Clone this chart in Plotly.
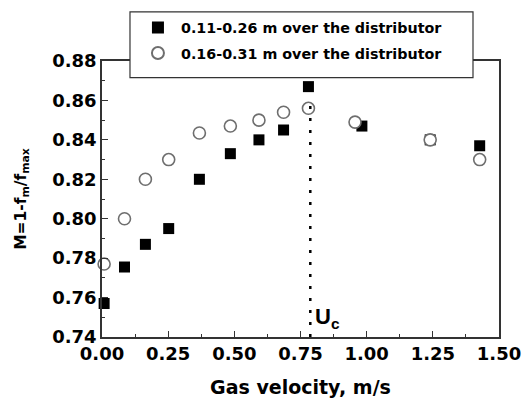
import plotly.graph_objects as go

# Data
velocity_a = [0.008, 0.085, 0.164, 0.252, 0.368, 0.485, 0.593, 0.686, 0.780, 0.982, 1.240, 1.427]
m_a = [0.757, 0.7755, 0.787, 0.795, 0.820, 0.833, 0.840, 0.845, 0.867, 0.847, 0.840, 0.837]
velocity_b = [0.008, 0.085, 0.164, 0.252, 0.368, 0.485, 0.593, 0.686, 0.780, 0.956, 1.240, 1.427]
m_b = [0.777, 0.800, 0.820, 0.830, 0.8435, 0.847, 0.850, 0.854, 0.856, 0.849, 0.840, 0.830]
name_a = "0.11-0.26 m over the distributor"
name_b = "0.16-0.31 m over the distributor"
uc_x = [0.787, 0.787]
uc_y = [0.740, 0.860]
x_ticks = [0.0, 0.25, 0.5, 0.75, 1.0, 1.25, 1.5]
x_ticklabels = ["0.00", "0.25", "0.50", "0.75", "1.00", "1.25", "1.50"]
y_ticks = [0.74, 0.76, 0.78, 0.80, 0.82, 0.84, 0.86, 0.88]
y_ticklabels = ["0.74", "0.76", "0.78", "0.80", "0.82", "0.84", "0.86", "0.88"]

FONT = "DejaVu Sans, Liberation Sans, sans-serif"
FONT_U = "Liberation Sans, Arial, sans-serif"

fig = go.Figure()
fig.add_trace(go.Scatter(
    x=velocity_a, y=m_a, mode="markers", name=name_a, cliponaxis=False,
    legendgroup="a",
    marker=dict(symbol="square", size=11, color="black", line=dict(width=0)),
))
fig.add_trace(go.Scatter(
    x=velocity_b, y=m_b, mode="markers", name=name_b, cliponaxis=False,
    legendgroup="b",
    marker=dict(symbol="circle", size=12, color="white", line=dict(width=1.6, color="#6e6e6e")),
))
fig.add_trace(go.Scatter(
    x=uc_x, y=uc_y, mode="lines", showlegend=False, hoverinfo="skip",
    line=dict(color="black", width=2.5, dash="3px,9px"),
))

fig.add_annotation(
    x=uc_x[0], y=0.7495, xref="x", yref="y", text="U<sub>c</sub>", showarrow=False,
    xanchor="left", yanchor="middle", xshift=3,
    font=dict(family=FONT_U, size=22, color="black", weight="bold"),
)

# legend frame (covers the top axis line like in the reference)
fig.add_shape(
    type="rect", xref="paper", yref="paper",
    x0=0.0705, x1=0.9345, y0=0.9395, y1=1.178,
    fillcolor="white", line=dict(color="#333", width=1.2), layer="above",
)

axis_common = dict(
    showline=True, linecolor="#333", linewidth=1.5, mirror=True,
    ticks="inside", ticklen=6, tickwidth=1.3, tickcolor="#333",
    showgrid=False, zeroline=False, automargin=False,
    tickfont=dict(family=FONT, size=18, color="black", weight="bold"),
)

fig.update_xaxes(
    range=[0, 1.5], tickvals=x_ticks, ticktext=x_ticklabels,
    minor=dict(ticks="inside", ticklen=3, tickwidth=1.2, tickcolor="#333", dtick=0.125),
    title=dict(text="Gas velocity, m/s", standoff=17,
               font=dict(family=FONT, size=19, color="black", weight="bold")),
    **axis_common,
)
fig.update_yaxes(
    range=[0.74, 0.88], tickvals=y_ticks, ticktext=y_ticklabels,
    minor=dict(ticks="inside", ticklen=3, tickwidth=1.2, tickcolor="#333", dtick=0.01),
    title=dict(text="M=1-f<sub>m</sub>/f<sub>max</sub>", standoff=22,
               font=dict(family=FONT, size=15.5, color="black", weight="bold")),
    **axis_common,
)

fig.update_layout(
    width=526, height=401,
    margin=dict(l=102, r=27, t=56, b=64),
    paper_bgcolor="white", plot_bgcolor="white",
    showlegend=True,
    legend=dict(
        x=0.083, y=1.179, xanchor="left", yanchor="top",
        bgcolor="rgba(0,0,0,0)", borderwidth=0,
        font=dict(family=FONT, size=14.3, color="black", weight="bold"),
        tracegroupgap=4, itemwidth=36, itemsizing="constant",
    ),
)

fig.write_html("out.html", config={"displayModeBar": False},
               post_script="document.body.style.margin='0px';")
